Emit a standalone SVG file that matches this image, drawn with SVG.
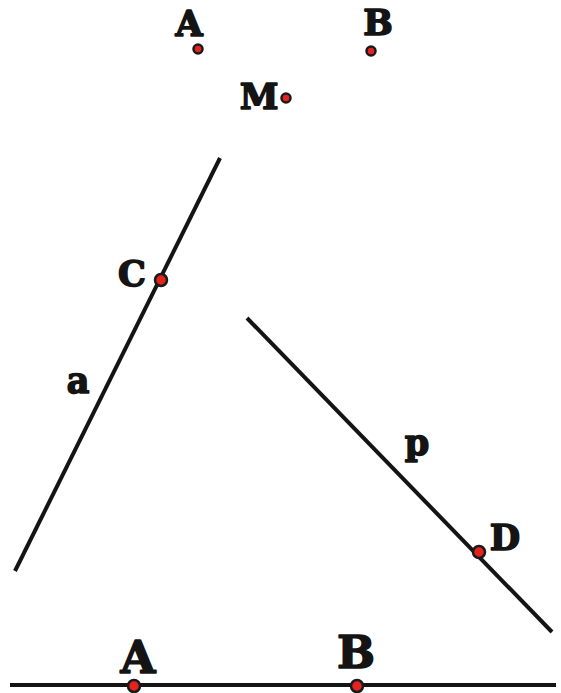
<svg xmlns="http://www.w3.org/2000/svg" width="561" height="693" viewBox="0 0 561 693">
<style>
.ln{stroke:#141414;stroke-width:4;stroke-linecap:butt;fill:none}
.pt{fill:#e3231f;stroke:#1a1a1a;stroke-width:2.5}
.lb{font-family:"DejaVu Serif",serif;font-weight:bold;fill:#141414;stroke:#141414;stroke-width:1.6;stroke-linejoin:round;text-anchor:middle}
.s{font-size:35px}
.b{font-size:45px}
</style>
<rect width="561" height="693" fill="#fff"/>
<g id="connectors">
<line class="ln" x1="220" y1="158" x2="15" y2="571"/>
<line class="ln" x1="247" y1="318" x2="552" y2="632"/>
<line class="ln" x1="10" y1="685" x2="556" y2="685"/>
</g>
<g id="A1"><text class="lb s" x="189" y="36">A</text><circle class="pt" cx="198" cy="49" r="4.5"/></g>
<g id="B1"><text class="lb s" x="378" y="35">B</text><circle class="pt" cx="371" cy="51" r="4.5"/></g>
<g id="M"><text class="lb s" x="259" y="109">M</text><circle class="pt" cx="286" cy="98" r="4.5"/></g>
<g id="C"><text class="lb s" x="132" y="286">C</text><circle class="pt" cx="161" cy="280" r="6"/></g>
<g id="a"><text class="lb s" x="78" y="393">a</text></g>
<g id="p"><text class="lb s" x="417" y="455">p</text></g>
<g id="D"><text class="lb s" x="505" y="550">D</text><circle class="pt" cx="479" cy="552" r="6"/></g>
<g id="A2"><text class="lb b" x="138" y="673">A</text><circle class="pt" cx="134" cy="686" r="6"/></g>
<g id="B2"><text class="lb b" x="356" y="668">B</text><circle class="pt" cx="357" cy="686" r="6"/></g>
</svg>
